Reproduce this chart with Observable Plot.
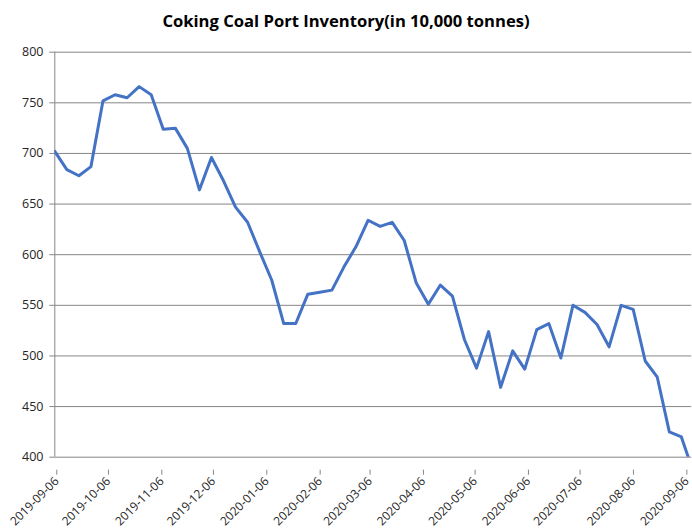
<!DOCTYPE html>
<html>
<head>
<meta charset="utf-8">
<script src="https://cdn.jsdelivr.net/npm/d3@7"></script>
<script src="https://cdn.jsdelivr.net/npm/@observablehq/plot@0.6"></script>
<style>
  html, body { margin: 0; padding: 0; background: #fff; }
  #title { height: 40px; line-height: 42px; text-align: center; font-family: "Open Sans", sans-serif; font-weight: 700; font-size: 16.6px; color: #000; width: 692px; }
  #chart svg { display: block; }
</style>
</head>
<body>
<div id="title">Coking Coal Port Inventory(in 10,000 tonnes)</div>
<div id="chart"></div>
<script>
const dates = [
  "2019-09-06","2019-09-13","2019-09-20","2019-09-27","2019-10-04","2019-10-11","2019-10-18","2019-10-25",
  "2019-11-01","2019-11-08","2019-11-15","2019-11-22","2019-11-29","2019-12-06","2019-12-13","2019-12-20",
  "2019-12-27","2020-01-03","2020-01-10","2020-01-17","2020-01-24","2020-01-31","2020-02-07","2020-02-14",
  "2020-02-21","2020-02-28","2020-03-06","2020-03-13","2020-03-20","2020-03-27","2020-04-03","2020-04-10",
  "2020-04-17","2020-04-24","2020-05-01","2020-05-08","2020-05-15","2020-05-22","2020-05-29","2020-06-05",
  "2020-06-12","2020-06-19","2020-06-26","2020-07-03","2020-07-10","2020-07-17","2020-07-24","2020-07-31",
  "2020-08-07","2020-08-14","2020-08-21","2020-08-28","2020-09-04","2020-09-11"
];
const inventory = [
  702, 684, 678, 687, 752, 758, 755, 766,
  758, 724, 725, 705, 664, 696, 673, 647,
  632, 603, 575, 532, 532, 561, 563, 565,
  588, 608, 634, 628, 632, 614, 572, 551,
  570, 559, 516, 488, 524, 469, 505, 487,
  526, 532, 498, 550, 543, 531, 509, 550,
  546, 495, 479, 425, 420, 385
];
const xTickLabels = [
  "2019-09-06","2019-10-06","2019-11-06","2019-12-06","2020-01-06","2020-02-06","2020-03-06",
  "2020-04-06","2020-05-06","2020-06-06","2020-07-06","2020-08-06","2020-09-06"
];
const yTicks = [400, 450, 500, 550, 600, 650, 700, 750, 800];
const xDomain = ["2019-09-06", "2020-09-10"];

const data = dates.map((d, i) => ({date: new Date(d), value: inventory[i]}));
const xTicks = xTickLabels.map(d => new Date(d));
const fmt = d3.utcFormat("%Y-%m-%d");
const gray = "#868686";

const chart = Plot.plot({
  width: 692,
  height: 490,
  marginTop: 11.7,
  marginBottom: 73.3,
  marginLeft: 54.3,
  marginRight: 0.8,
  style: {fontFamily: "'Open Sans', sans-serif", fontSize: "12.5px", color: "#262626", background: "#fff"},
  x: {type: "utc", domain: xDomain.map(d => new Date(d))},
  y: {domain: [400, 800]},
  marks: [
    Plot.gridY(yTicks, {stroke: gray, strokeOpacity: 1, strokeWidth: 1}),
    Plot.ruleX([new Date(xDomain[0])], {stroke: gray, strokeWidth: 1}),
    Plot.axisY({ticks: yTicks, tickSize: 5, tickPadding: 6.3, stroke: gray, strokeOpacity: 1, label: null, tickFormat: d => String(d)}),
    Plot.axisX({ticks: xTicks, tickSize: 5, tickPadding: 4, tickRotate: -45, stroke: gray, strokeOpacity: 1, label: null, tickFormat: fmt, dx: 2, dy: 13, fontSize: 12}),
    Plot.lineY(data, {x: "date", y: "value", stroke: "#4472C4", strokeWidth: 3, clip: true, strokeLinejoin: "round"})
  ]
});
document.getElementById("chart").appendChild(chart);
</script>
</body>
</html>
